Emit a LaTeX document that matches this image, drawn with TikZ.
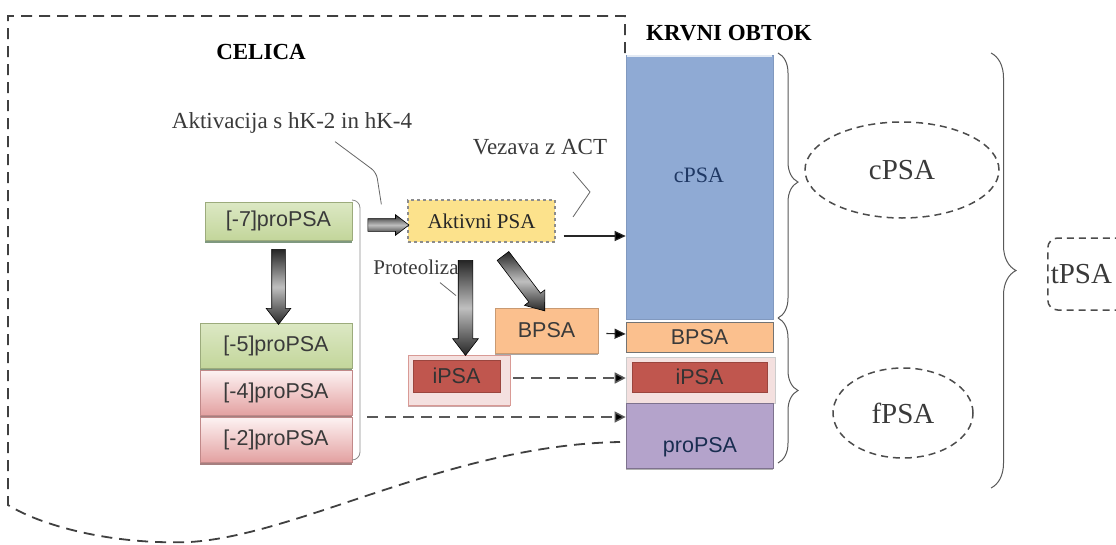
\documentclass[tikz,border=0pt]{standalone}
\usepackage{fontspec}
\setmainfont{Liberation Serif}
\newfontfamily\arialf{Liberation Sans}
\usetikzlibrary{shapes.arrows,shapes.geometric,decorations.pathreplacing,calc,shadows,arrows.meta}
\definecolor{blueC}{HTML}{8FAAD4}
\definecolor{orangeC}{HTML}{FBC08E}
\definecolor{redC}{HTML}{C0564E}
\definecolor{pinkframe}{HTML}{F4E0DF}
\definecolor{purpleC}{HTML}{B4A3CB}
\definecolor{greenC}{HTML}{C3D69B}
\definecolor{greenL}{HTML}{DCE8C4}
\definecolor{pinkB}{HTML}{E3A1A1}
\definecolor{pinkT}{HTML}{FDF3F3}
\definecolor{yellowC}{HTML}{FCE28C}
\definecolor{txt}{HTML}{3A3A3A}
\definecolor{navy}{HTML}{1F3864}
\begin{document}
\begin{tikzpicture}[x=1pt,y=-1pt,
  serifl/.style={inner sep=0pt, text=txt, font=\fontsize{23}{25}\selectfont},
  boldl/.style={inner sep=0pt, text=black, font=\bfseries\fontsize{23}{25}\selectfont},
  sansl/.style={inner sep=0pt, text=txt, font=\arialf\fontsize{21.5}{23}\selectfont},
  greenbox/.style={sansl, rectangle, top color=greenL, bottom color=greenC, draw=greenC!80!black, line width=0.6pt,
     drop shadow={shadow xshift=0pt, shadow yshift=-2.5pt, opacity=0.5, fill=green!20!black}},
  pinkbox/.style={sansl, rectangle, top color=pinkT, bottom color=pinkB, draw=pinkB!85!black, line width=0.6pt,
     drop shadow={shadow xshift=0pt, shadow yshift=-2.5pt, opacity=0.5, fill=red!30!black}},
  fatarr/.style={single arrow, allow upside down, sloped, draw=black, line width=0.6pt, inner xsep=0pt, inner ysep=6.5pt,
     minimum width=0pt, single arrow head extend=5.5pt, single arrow tip angle=75,
     shade, top color=black!85, bottom color=black!85, middle color=gray!50},
  celldash/.style={draw=black!75, line width=1.8pt, dash pattern=on 11pt off 7pt},
  dasharr/.style={draw=black!65, line width=1.5pt, dash pattern=on 11pt off 7pt, -{Triangle[length=11pt,width=11pt,fill=black]}},
  solarr/.style={draw=black!85, line width=1.1pt, -{Triangle[length=11pt,width=10pt,fill=black]}},
  callout/.style={draw=black!60, line width=0.8pt},
  ovaldash/.style={draw=black!70, line width=1.5pt, dash pattern=on 7pt off 5pt},
  bracestyle/.style={draw=black!65, line width=1pt, decorate}
]
\clip (0,0) rectangle (1116,544);
\fill[white] (0,0) rectangle (1116,544);

% cell boundary
\draw[celldash] (625,53) -- (625,16) -- (8,16) -- (8,505) .. controls (40,525) and (110,545) .. (190,542)
   .. controls (300,535) and (450,445) .. (620,442);

% titles
\node[boldl] (celica) at (261,52) {CELICA};
\node[boldl] (krvni) at (729,33) {KRVNI OBTOK};

% left stack
\node[greenbox, minimum width=147, minimum height=38] (k7) at (278.5,221) {[-7]proPSA};
\node[greenbox, minimum width=152, minimum height=45] (k5) at (276,345.5) {[-5]proPSA};
\node[pinkbox, minimum width=152, minimum height=45] (k4) at (276,392.5) {[-4]proPSA};
\node[pinkbox, minimum width=152, minimum height=45] (k2) at (276,439.5) {[-2]proPSA};
\draw[draw=black!45, line width=0.8pt, rounded corners=8pt] (352,200) -- (360,200) -- (360,460) -- (352,460);
\coordinate (brk) at (360,417);

% active PSA
\node[serifl, font=\fontsize{21}{23}\selectfont, text=black!85, rectangle, fill=yellowC, draw=black!45, line width=1.3pt,
   dash pattern=on 3pt off 3pt, minimum width=147, minimum height=42] (akt) at (481.5,221) {Aktivni PSA};

% labels
\node[serifl] (aktiv) at (292,123) {Aktivacija s hK-2 in hK-4};
\node[serifl] (vez) at (540,147) {Vezava z ACT};
\node[serifl, font=\fontsize{21}{23}\selectfont] (prot) at (416,267) {Proteoliza};

% BPSA / iPSA left
\node[sansl, rectangle, fill=orangeC, draw=orangeC!80!black, line width=0.8pt, minimum width=103, minimum height=45,
   drop shadow={shadow xshift=0pt, shadow yshift=-2pt, opacity=0.35, fill=black}] (bpsaL) at (546.5,330.5) {BPSA};
\node[rectangle, fill=pinkframe, draw=redC!60!white, line width=0.8pt, minimum width=102, minimum height=50,
   drop shadow={shadow xshift=0pt, shadow yshift=-2pt, opacity=0.35, fill=red!40!black}] (ipsaL) at (459,380) {};
\node[sansl, rectangle, fill=redC, draw=redC!80!black, line width=0.6pt, minimum width=87, minimum height=32, text=black!80] (ipsaLi) at (456.5,376) {iPSA};

% blood column
\node[rectangle, fill=blueC, draw=blueC!90!black, line width=0.6pt, minimum width=147, minimum height=264] (cpsaC) at (699.5,187) {};
\draw[white!75!blueC, line width=2pt] (627,56) -- (772,56);
\node[serifl, text=navy, font=\fontsize{22}{24}\selectfont] (cpsaT) at (699,175) {cPSA};
\node[sansl, rectangle, fill=orangeC, draw=black!55, line width=0.8pt, minimum width=147, minimum height=30] (bpsaC) at (699.5,337) {BPSA};
\node[rectangle, fill=pinkframe, draw=black!20, line width=0.6pt, minimum width=149, minimum height=46] (ipsaC) at (700.5,380) {};
\node[sansl, rectangle, fill=redC, draw=redC!80!black, line width=0.6pt, minimum width=135, minimum height=30, text=black!80] (ipsaCi) at (699.5,377) {iPSA};
\node[rectangle, fill=purpleC, draw=purpleC!70!black, line width=0.8pt, minimum width=147, minimum height=65,
   drop shadow={shadow xshift=0pt, shadow yshift=-2pt, opacity=0.3, fill=black}] (propsaC) at (699.5,435.5) {};
\node[sansl, text=navy!80!black] (propsaT) at (700,447) {proPSA};

% block arrows
\path ($(k7.south)+(0,5)$) -- ($(k7.south |- k5.north)+(0,-3)$) node[fatarr, midway, minimum height=75] {};
\path ($(k7.east)+(12,4)$) -- ($(akt.west)+(-3,4)$) node[fatarr, midway, minimum height=41, inner ysep=6pt, single arrow head extend=4pt] {};
\path ($(akt.south)+(-16,13)$) -- ($(akt.south)+(-16,108)$) node[fatarr, midway, minimum height=95, inner ysep=7pt] {};
\path ($(akt.south)+(19,10)$) -- ($(bpsaL.north)+(-5,-1)$) node[fatarr, midway, minimum height=69, inner ysep=7pt] {};

% thin arrows
\draw[solarr] ($(akt.east)+(8,15)$) -- ($(cpsaC.west)+(0,49)$);
\draw[solarr] ($(bpsaL.east)+(8,3)$) -- ($(bpsaC.west)+(0,-3)$);
\draw[dasharr] ($(ipsaL.east)+(3,-2)$) -- ($(ipsaC.west)+(0,-2)$);
\draw[dasharr] ($(brk)+(7,0)$) -- (propsaC.west |- brk);

% callouts
\draw[callout, rounded corners=6pt] ($(aktiv.south)+(43,8)$) -- ($(akt.north west)+(-31,-27)$) -- ($(akt.north west)+(-26,5)$);
\draw[callout] ($(vez.south)+(33,17)$) -- ($(vez.south)+(50,37)$) -- ($(vez.south)+(33,62)$);
\draw[callout] ($(prot.south)+(24,8)$) -- ($(prot.south)+(40,21)$);

% braces
\draw[bracestyle, decoration={brace, amplitude=20pt, aspect=0.487}] (778,53) -- (778,318);
\draw[bracestyle, decoration={brace, amplitude=20pt}] (778,318) -- (778,463);
\draw[bracestyle, decoration={brace, amplitude=25pt}] (991,53) -- (991,488);

% ovals
\node[ovaldash, ellipse, minimum width=194, minimum height=96, inner sep=0pt, font=\fontsize{29}{31}\selectfont, text=txt] (cov) at (902,170) {cPSA};
\node[ovaldash, ellipse, minimum width=140, minimum height=90, inner sep=0pt, font=\fontsize{29}{31}\selectfont, text=txt] (fov) at (903,413) {fPSA};
\node[ovaldash, rectangle, rounded corners=10pt, anchor=west, text width=90pt, align=left, inner xsep=3pt, minimum height=72,
   font=\fontsize{29}{31}\selectfont, text=txt] (tov) at (1047,274) {tPSA};
\end{tikzpicture}
\end{document}
